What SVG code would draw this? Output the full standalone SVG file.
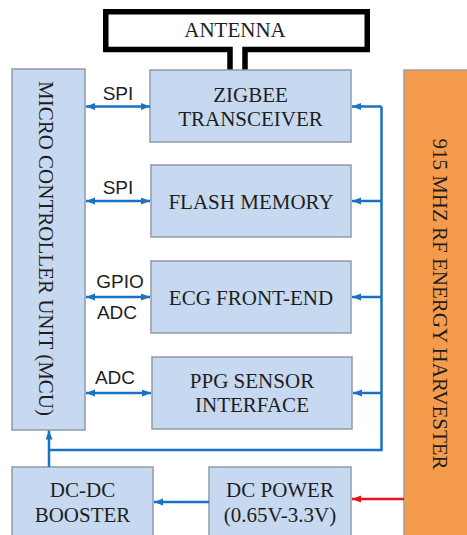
<svg xmlns="http://www.w3.org/2000/svg" width="467" height="535" viewBox="0 0 467 535">
<style>
.box{fill:#c6d9f0;stroke:#8e9aaa;stroke-width:1.5}
.orange{fill:#f59b4c;stroke:#a0a0a0;stroke-width:1.5}
.t{font-family:"Liberation Serif","Times New Roman",serif;font-size:21px;fill:#1e1e1e;text-anchor:middle}
.lbl{font-family:"Liberation Sans",Arial,sans-serif;font-size:19px;fill:#1e1e1e;text-anchor:middle}
.bl{fill:none;stroke:#1a72c4;stroke-width:2.5}
.rd{fill:none;stroke:#e8101a;stroke-width:2.5}
</style>
<defs>
<marker id="ab" markerUnits="userSpaceOnUse" markerWidth="10" markerHeight="8" refX="9" refY="3.5" orient="auto-start-reverse"><path d="M0,0 L9,3.5 L0,7 z" fill="#1a72c4"/></marker>
<marker id="ar" markerUnits="userSpaceOnUse" markerWidth="10" markerHeight="8" refX="9" refY="3.5" orient="auto-start-reverse"><path d="M0,0 L9,3.5 L0,7 z" fill="#e8101a"/></marker>
</defs>
<g id="antenna">
<path d="M230,70 V49.5 H105.75 V11.75 H367.25 V49.5 H245 V70" fill="#fff" stroke="#000" stroke-width="5.5"/>
<text class="t" x="235" y="37">ANTENNA</text>
</g>
<g id="mcu">
<rect class="box" x="12" y="69" width="73" height="361"/>
<text class="t" transform="translate(39,248.5) rotate(90)">MICRO CONTROLLER UNIT (MCU)</text>
</g>
<g id="zigbee">
<rect class="box" x="150" y="70" width="201" height="72"/>
<text class="t" x="250.5" y="102">ZIGBEE</text>
<text class="t" x="250.5" y="126">TRANSCEIVER</text>
</g>
<g id="flash">
<rect class="box" x="151" y="165" width="200" height="72"/>
<text class="t" x="251" y="209">FLASH MEMORY</text>
</g>
<g id="ecg">
<rect class="box" x="151" y="261" width="200" height="72"/>
<text class="t" x="251" y="305">ECG FRONT-END</text>
</g>
<g id="ppg">
<rect class="box" x="152" y="357" width="200" height="72"/>
<text class="t" x="252" y="388">PPG SENSOR</text>
<text class="t" x="252" y="412">INTERFACE</text>
</g>
<g id="dcdc">
<rect class="box" x="12" y="467" width="141" height="80"/>
<text class="t" x="82.5" y="497">DC-DC</text>
<text class="t" x="82.5" y="522">BOOSTER</text>
</g>
<g id="dcpower">
<rect class="box" x="209" y="467" width="142" height="80"/>
<text class="t" x="280" y="497">DC POWER</text>
<text class="t" x="280" y="522">(0.65V-3.3V)</text>
</g>
<g id="harvester">
<rect class="orange" x="404" y="70" width="80" height="480"/>
<text class="t" transform="translate(433,304) rotate(90)">915 MHZ RF ENERGY HARVESTER</text>
</g>
<g id="connectors">
<path class="bl" d="M86,106.5 H150" marker-start="url(#ab)" marker-end="url(#ab)"/>
<path class="bl" d="M86,201 H150" marker-start="url(#ab)" marker-end="url(#ab)"/>
<path class="bl" d="M86,297 H150" marker-start="url(#ab)" marker-end="url(#ab)"/>
<path class="bl" d="M86,393 H151" marker-start="url(#ab)" marker-end="url(#ab)"/>
<text class="lbl" x="118" y="100">SPI</text>
<text class="lbl" x="118" y="194">SPI</text>
<text class="lbl" x="120" y="288">GPIO</text>
<text class="lbl" x="117" y="319">ADC</text>
<text class="lbl" x="115" y="384">ADC</text>
<path class="bl" d="M381.5,106.5 V450 H49"/>
<path class="bl" d="M381.5,106.5 H352" marker-end="url(#ab)"/>
<path class="bl" d="M381.5,201 H352" marker-end="url(#ab)"/>
<path class="bl" d="M381.5,297 H352" marker-end="url(#ab)"/>
<path class="bl" d="M381.5,393 H353" marker-end="url(#ab)"/>
<path class="bl" d="M49,467 V430.5" marker-end="url(#ab)"/>
<path class="bl" d="M209,502 H154" marker-end="url(#ab)"/>
<path class="rd" d="M404,499 H352" marker-end="url(#ar)"/>
</g>
</svg>
